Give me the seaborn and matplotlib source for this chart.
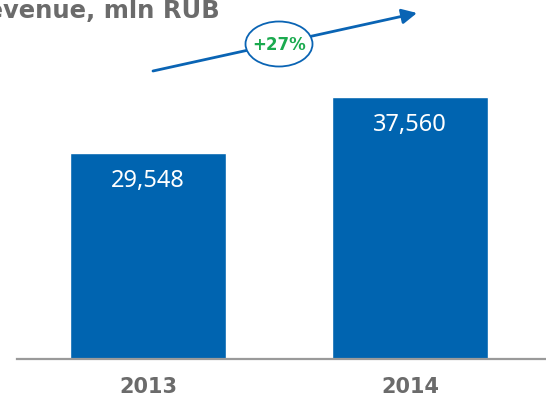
import matplotlib
matplotlib.use('Agg')
import matplotlib.pyplot as plt
from matplotlib.patches import Ellipse
import seaborn as sns
import pandas as pd

#---------------------------------------------------------
years=['2013', '2014']
revenue=[29548, 37560]
growth_lbl='+27%'
title='Revenue, mln RUB'

c_bar='#0064B0'
c_grey='#6B6B6B'
c_green='#1BAA4F'

W, H=546, 403
def px(x, y):
	return (x/W, 1-y/H)

#--------------------------------------------------------
df=pd.DataFrame({'year': years, 'revenue': revenue})

sns.set_style('white')
plt.rcParams['font.family']=['DejaVu Sans']

fig=plt.figure(figsize=(W/100, H/100), dpi=100)
ax=fig.add_axes([17/W, 44/H, 1-17/W, 359/H])

sns.barplot(data=df, x='year', y='revenue', color=c_bar, saturation=1, width=0.595, ax=ax)

ax.set_xlim(-0.5, 1.519)
ax.set_ylim(0, 51470)
ax.set_xlabel('')
ax.set_ylabel('')
ax.set_yticks([])
for s in ['top', 'left', 'right']:
	ax.spines[s].set_visible(False)
ax.spines['bottom'].set_color('#9A9A9A')
ax.spines['bottom'].set_linewidth(1.6)
ax.tick_params(axis='x', length=0, pad=13, labelsize=15, labelcolor=c_grey)
for t in ax.get_xticklabels():
	t.set_fontweight('bold')

#values inside bars
for i, v in enumerate(revenue):
	ax.annotate(f'{v:,}', (i, v), xytext=(0, -28), textcoords='offset pixels',
		ha='center', va='center', color='white', fontsize=17, family='Noto Sans')

#title (clipped at left like the original)
fig.text(*px(220, 18), title, ha='right', va='baseline', fontsize=17.5,
	fontweight='bold', color=c_grey)

#growth arrow
fig.add_artist(plt.Annotation('', xy=px(417, 13), xytext=px(153, 71),
	xycoords='figure fraction', textcoords='figure fraction',
	arrowprops=dict(arrowstyle='-|>,head_length=0.9,head_width=0.45', color='#0A64B4', lw=2,
		shrinkA=0, shrinkB=0)))
fig.add_artist(Ellipse(px(279, 44), 67/W, 45/H, transform=fig.transFigure,
	facecolor='white', edgecolor='#0A64B4', lw=1.3, zorder=5))
fig.text(*px(279, 45), growth_lbl, ha='center', va='center', fontsize=12,
	fontweight='bold', color=c_green, zorder=6)

plt.savefig('out.png', dpi=100)
plt.close()
